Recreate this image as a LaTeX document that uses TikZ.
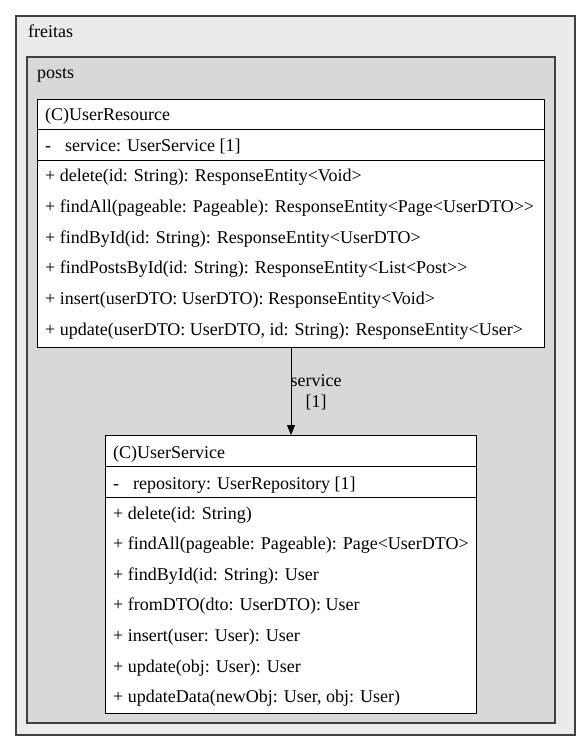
\documentclass[tikz,border=0pt]{standalone}
\usepackage{fontspec}
\setmainfont{Liberation Serif}
\usetikzlibrary{arrows.meta}
\definecolor{pkgouter}{RGB}{235,235,235}
\definecolor{pkginner}{RGB}{216,216,216}
\definecolor{pkgline}{RGB}{64,64,64}
\tikzset{
  pkgframe/.style={draw=pkgline, line width=1.5pt},
  classbox/.style={draw=black, fill=white, line width=1pt, anchor=north west},
  rowline/.style={draw=black, line width=1pt},
  assoc/.style={draw=black, line width=1pt, -{Triangle[length=10pt, width=8pt]}},
}
\begin{document}
\begin{tikzpicture}[x=1pt, y=-1pt,
    every node/.style={font=\fontsize{18}{21}\selectfont, inner sep=0pt, anchor=base west}]
  \useasboundingbox (0,0) rectangle (581,751);

  %% ---------- packages ----------
  \draw[pkgframe, fill=pkgouter] (16,16) rectangle (575,735);
  \node (freitas) at (28,38) {freitas};
  \draw[pkgframe, fill=pkginner] (27,57) rectangle (555,723);
  \node (posts) at (37,79) {posts};

  %% ---------- UserResource ----------
  \node[classbox, minimum width=507pt, minimum height=248pt] (res) at (37,99) {};
  \draw[rowline] (res.west |- 0,130) -- (res.east |- 0,130);
  \draw[rowline] (res.west |- 0,161) -- (res.east |- 0,161);
  \node (resname) at (45,121) {(C)UserResource};
  \node (resvis) at (45,152) {-};
  \node (resattr) at (65,152) {service: UserService [1]};
  \foreach \op [count=\i from 0] in {
      {+ delete(id: String): ResponseEntity<Void>},
      {+ findAll(pageable: Pageable): ResponseEntity<Page<UserDTO>{}>},
      {+ findById(id: String): ResponseEntity<UserDTO>},
      {+ findPostsById(id: String): ResponseEntity<List<Post>{}>},
      {+ insert(userDTO: UserDTO): ResponseEntity<Void>},
      {+ update(userDTO: UserDTO, id: String): ResponseEntity<User>}}
    \node (resop\i) at (45,182+30.6*\i) {\op};

  %% ---------- UserService ----------
  \node[classbox, minimum width=371pt, minimum height=278pt] (svc) at (105,435) {};
  \draw[rowline] (svc.west |- 0,466) -- (svc.east |- 0,466);
  \draw[rowline] (svc.west |- 0,497) -- (svc.east |- 0,497);
  \node (svcname) at (113,458) {(C)UserService};
  \node (svcvis) at (113,489) {-};
  \node (svcattr) at (133,489) {repository: UserRepository [1]};
  \foreach \op [count=\i from 0] in {
      {+ delete(id: String)},
      {+ findAll(pageable: Pageable): Page<UserDTO>},
      {+ findById(id: String): User},
      {+ fromDTO(dto: UserDTO): User},
      {+ insert(user: User): User},
      {+ update(obj: User): User},
      {+ updateData(newObj: User, obj: User)}}
    \node (svcop\i) at (113,519+30.6*\i) {\op};

  %% ---------- association ----------
  \draw[assoc] (res.south) -- (svc.north);
  \node[align=center, anchor=center] (assoclbl) at (316,392) {service\\{[1]}};
\end{tikzpicture}
\end{document}
